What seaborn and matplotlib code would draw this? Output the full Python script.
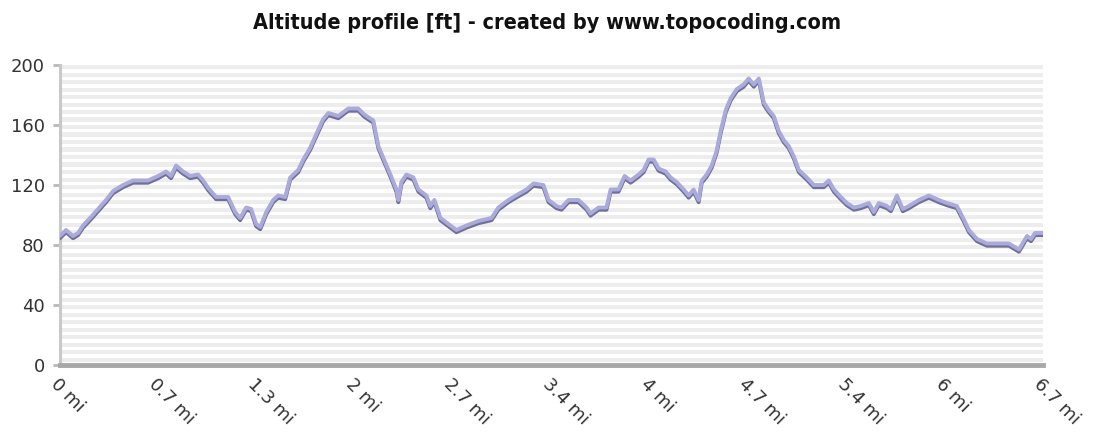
import numpy as np
import pandas as pd
import matplotlib.pyplot as plt
import matplotlib.patheffects as pe
import seaborn as sns

# distance along the track [mi] and altitude [ft]
dist_mi = [0.00, 0.041, 0.089, 0.123, 0.157, 0.205, 0.259, 0.314, 0.362, 0.430,
           0.498, 0.600, 0.669, 0.723, 0.757, 0.791, 0.839, 0.887, 0.941, 0.976,
           1.010, 1.064, 1.146, 1.194, 1.228, 1.269, 1.303, 1.337, 1.365, 1.406,
           1.453, 1.487, 1.535, 1.569, 1.624, 1.658, 1.706, 1.747, 1.794, 1.829,
           1.897, 1.965, 2.033, 2.074, 2.135, 2.170, 2.204, 2.252, 2.293, 2.306,
           2.327, 2.361, 2.409, 2.443, 2.497, 2.524, 2.552, 2.593, 2.647, 2.702,
           2.770, 2.852, 2.941, 2.988, 3.057, 3.125, 3.180, 3.227, 3.295, 3.330,
           3.384, 3.418, 3.466, 3.534, 3.589, 3.616, 3.671, 3.725, 3.753, 3.807,
           3.848, 3.889, 3.944, 3.978, 4.012, 4.046, 4.080, 4.128, 4.162, 4.203,
           4.251, 4.285, 4.319, 4.353, 4.374, 4.408, 4.442, 4.476, 4.503, 4.538,
           4.572, 4.613, 4.660, 4.694, 4.729, 4.763, 4.797, 4.831, 4.865, 4.899,
           4.933, 4.967, 5.002, 5.036, 5.090, 5.138, 5.206, 5.240, 5.275, 5.322,
           5.363, 5.411, 5.459, 5.513, 5.547, 5.581, 5.636, 5.663, 5.704, 5.745,
           5.786, 5.854, 5.922, 5.990, 6.045, 6.113, 6.161, 6.195, 6.250, 6.318,
           6.468, 6.536, 6.591, 6.618, 6.645, 6.700]
alt_ft = [86, 90, 86, 88, 93, 98, 104, 110, 116, 120,
          123, 123, 126, 129, 126, 133, 129, 126, 127, 123,
          118, 112, 112, 102, 98, 105, 104, 94, 92, 102,
          110, 113, 112, 125, 130, 137, 145, 154, 164, 168,
          166, 171, 171, 167, 163, 146, 138, 127, 117, 110,
          122, 127, 125, 117, 113, 106, 110, 98, 94, 90,
          93, 96, 98, 105, 110, 114, 117, 121, 120, 110,
          106, 105, 110, 110, 105, 101, 105, 105, 117, 117,
          126, 123, 127, 130, 137, 137, 131, 129, 125, 122,
          117, 113, 117, 110, 123, 127, 133, 143, 156, 170,
          178, 184, 187, 191, 187, 191, 175, 170, 166, 156,
          150, 146, 139, 130, 125, 120, 120, 123, 117, 112,
          108, 105, 106, 108, 102, 108, 106, 104, 113, 104,
          106, 110, 113, 110, 108, 106, 97, 90, 84, 81,
          81, 77, 86, 84, 88, 88]

x_labels = ['0 mi', '0.7 mi', '1.3 mi', '2 mi', '2.7 mi', '3.4 mi',
            '4 mi', '4.7 mi', '5.4 mi', '6 mi', '6.7 mi']
y_ticks = [0, 40, 80, 120, 160, 200]
title = 'Altitude profile [ft] - created by www.topocoding.com'

df = pd.DataFrame({'dist': dist_mi, 'alt': alt_ft})

sns.set_style('white')
plt.rcParams['font.family'] = ['DejaVu Sans']

fig = plt.figure(figsize=(10.94, 4.34), dpi=100)
ax = fig.add_axes([60 / 1094, 1 - 365 / 434, 983 / 1094, 300 / 434])

# striped background
for k in range(40):
    ax.axhspan(k * 5 + 2.2, k * 5 + 5, color='#ededed', lw=0, zorder=0)

sns.lineplot(data=df, x='dist', y='alt', ax=ax, color='#aaaadb', lw=2.8,
             zorder=3,
             path_effects=[pe.SimpleLineShadow(offset=(0, -1.6), shadow_color='#70709a', alpha=1),
                           pe.Normal()])

ax.set_xlim(0, 6.7)
ax.set_ylim(0, 200)
ax.set_xlabel('')
ax.set_ylabel('')

ax.set_yticks(y_ticks)
ax.set_xticks([i * 6.7 / 10 for i in range(len(x_labels))])
ax.set_xticklabels(x_labels, rotation=-45, ha='left', va='top', rotation_mode='anchor')

ax.tick_params(axis='y', length=5, width=2, color='#b8b8b8', pad=6,
               labelsize=13, labelcolor='#333333', left=True)
ax.tick_params(axis='x', length=0, pad=7, labelsize=13, labelcolor='#333333')

for s in ['top', 'right']:
    ax.spines[s].set_visible(False)
ax.spines['left'].set_color('#c8c8c8')
ax.spines['left'].set_linewidth(2.2)
ax.spines['bottom'].set_color('#a8a8a8')
ax.spines['bottom'].set_linewidth(3.5)

fig.text(0.5, 1 - 23 / 434, title, ha='center', va='center', fontsize=15.5,
         fontweight='bold', fontstretch='condensed', color='#111111')

plt.savefig('out.png', dpi=100)
plt.close()
